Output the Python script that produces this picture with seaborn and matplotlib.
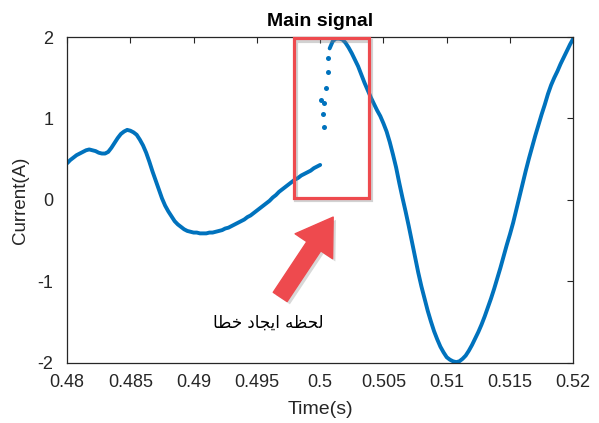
import numpy as np
import pandas as pd
import matplotlib
matplotlib.use("Agg")
import matplotlib.pyplot as plt
import matplotlib.patheffects as pe
from matplotlib.patches import Rectangle
import seaborn as sns

# ---- sampled current, before the fault (0.25 ms sampling) ----
T_PRE_START = 0.48
T_POST_START = 0.50075
DT = 0.00025
current_pre = [
    0.45, 0.49, 0.52, 0.55, 0.57, 0.59, 0.61, 0.62, 0.61, 0.60,
    0.58, 0.57, 0.57, 0.59, 0.64, 0.70, 0.76, 0.81, 0.84, 0.86,
    0.85, 0.83, 0.80, 0.74, 0.67, 0.58, 0.47, 0.35, 0.24, 0.13,
    0.02, -0.07, -0.14, -0.20, -0.26, -0.30, -0.33, -0.36, -0.38, -0.39,
    -0.40, -0.40, -0.41, -0.41, -0.41, -0.40, -0.40, -0.39, -0.38, -0.37,
    -0.35, -0.34, -0.32, -0.30, -0.28, -0.26, -0.24, -0.21, -0.19, -0.16,
    -0.13, -0.10, -0.07, -0.04, -0.01, 0.03, 0.06, 0.10, 0.13, 0.16,
    0.19, 0.22, 0.25, 0.27, 0.30, 0.32, 0.34, 0.36, 0.39, 0.41,
    0.43,
]
# ---- scattered samples during the transient ----
jump_time = [0.50010, 0.50021, 0.50029, 0.50034, 0.50045, 0.50058, 0.50061]
jump_current = [1.23, 1.06, 0.90, 1.19, 1.37, 1.57, 1.74]
# ---- sampled current after the fault ----
current_post = [
    1.86, 1.95, 1.98, 1.98, 1.97, 1.93, 1.87, 1.80, 1.72, 1.64,
    1.54, 1.44, 1.35, 1.26, 1.18, 1.10, 1.03, 0.94, 0.84, 0.71,
    0.56, 0.40, 0.21, 0.03, -0.14, -0.32, -0.51, -0.70, -0.89, -1.06,
    -1.21, -1.36, -1.49, -1.61, -1.71, -1.80, -1.87, -1.93, -1.96, -1.98,
    -1.99, -1.98, -1.95, -1.91, -1.85, -1.78, -1.70, -1.62, -1.53, -1.43,
    -1.32, -1.21, -1.09, -0.96, -0.83, -0.69, -0.55, -0.42, -0.28, -0.12,
    0.04, 0.20, 0.36, 0.51, 0.65, 0.79, 0.92, 1.05, 1.17, 1.30,
    1.41, 1.50, 1.58, 1.67, 1.75, 1.83, 1.91, 1.98,
]

x_ticks = [0.48, 0.485, 0.49, 0.495, 0.5, 0.505, 0.51, 0.515, 0.52]
x_tick_labels = ["0.48", "0.485", "0.49", "0.495", "0.5", "0.505", "0.51", "0.515", "0.52"]
y_ticks = [-2, -1, 0, 1, 2]
y_tick_labels = ["-2", "-1", "0", "1", "2"]
title_text = "Main signal"
x_label = "Time(s)"
y_label = "Current(A)"
fault_label = "لحظه ایجاد خطا"

pre = pd.DataFrame({
    "time": T_PRE_START + DT * np.arange(len(current_pre)),
    "current": current_pre,
})
post = pd.DataFrame({
    "time": T_POST_START + DT * np.arange(len(current_post)),
    "current": current_post,
})
jump = pd.DataFrame({"time": jump_time, "current": jump_current})

# Contextual forms for the Arabic letters, so the label is drawn joined, right to left
ARABIC_FORMS = {
    "\u0627": ("\uFE8D", "\uFE8E", None, None),
    "\u062F": ("\uFEA9", "\uFEAA", None, None),
    "\u062C": ("\uFE9D", "\uFE9E", "\uFE9F", "\uFEA0"),
    "\u062D": ("\uFEA1", "\uFEA2", "\uFEA3", "\uFEA4"),
    "\u062E": ("\uFEA5", "\uFEA6", "\uFEA7", "\uFEA8"),
    "\u0637": ("\uFEC1", "\uFEC2", "\uFEC3", "\uFEC4"),
    "\u0638": ("\uFEC5", "\uFEC6", "\uFEC7", "\uFEC8"),
    "\u0644": ("\uFEDD", "\uFEDE", "\uFEDF", "\uFEE0"),
    "\u0647": ("\uFEE9", "\uFEEA", "\uFEEB", "\uFEEC"),
    "\u06CC": ("\uFBFC", "\uFBFD", "\uFBFE", "\uFBFF"),
}


def shape_arabic(text):
    out = []
    for i, ch in enumerate(text):
        forms = ARABIC_FORMS.get(ch)
        if forms is None:
            out.append(ch)
            continue
        prev = text[i - 1] if i > 0 else ""
        nxt = text[i + 1] if i + 1 < len(text) else ""
        joins_prev = prev in ARABIC_FORMS and ARABIC_FORMS[prev][2] is not None
        joins_next = nxt in ARABIC_FORMS and forms[2] is not None
        if joins_prev and joins_next:
            out.append(forms[3])
        elif joins_prev:
            out.append(forms[1])
        elif joins_next:
            out.append(forms[2])
        else:
            out.append(forms[0])
    return "".join(reversed(out))


sns.set_theme(style="white")
plt.rcParams["font.family"] = ["Liberation Sans", "DejaVu Sans"]
dark = "#262626"
blue = "#0072BD"
red = "#EE4A4E"

fig = plt.figure(figsize=(5.99, 4.23), dpi=100)
ax = fig.add_axes([0.112, 0.142, 0.845, 0.7705])

sns.lineplot(data=pre, x="time", y="current", ax=ax, color=blue, lw=2.8,
             sort=False, estimator=None)
sns.lineplot(data=post, x="time", y="current", ax=ax, color=blue, lw=2.8,
             sort=False, estimator=None)
sns.scatterplot(data=jump, x="time", y="current", ax=ax, color=blue, s=13,
                linewidth=0)

ax.set_xlim(0.48, 0.52)
ax.set_ylim(-2, 2)
ax.set_xticks(x_ticks)
ax.set_xticklabels(x_tick_labels)
ax.set_yticks(y_ticks)
ax.set_yticklabels(y_tick_labels)
ax.tick_params(direction="in", length=4, width=0.8, colors=dark,
               labelsize=13, top=True, right=True,
               labeltop=False, labelright=False)
ax.tick_params(axis="x", pad=8)
ax.tick_params(axis="y", pad=10)
for sp in ax.spines.values():
    sp.set_color(dark)
    sp.set_linewidth(0.9)
ax.set_xlabel(x_label, fontsize=14, color=dark, labelpad=7)
ax.set_ylabel(y_label, fontsize=13.5, color=dark, labelpad=6)
ax.set_title(title_text, fontsize=14, fontweight="bold", color="black", pad=8)

# box around the fault instant, with a soft drop shadow on its outline
box = Rectangle((0.4979, 0.03), 0.00593, 1.955, fill=False, ec=red, lw=2.3,
                clip_on=False, zorder=5)
box.set_path_effects([
    pe.SimpleLineShadow(offset=(2, -2), shadow_color="gray", alpha=0.35, linewidth=3),
    pe.Normal(),
])
ax.add_patch(box)

# arrow pointing at the box
ax.annotate("", xy=(0.50103, -0.21), xytext=(0.49684, -1.19),
            arrowprops=dict(arrowstyle="simple,head_width=2.7,head_length=2.1,tail_width=1.0",
                            fc=red, ec=red, lw=1, shrinkA=0, shrinkB=0,
                            joinstyle="round", capstyle="round",
                            path_effects=[
                                pe.SimplePatchShadow(offset=(2, -2), shadow_rgbFace="gray", alpha=0.3),
                                pe.Normal(),
                            ]),
            zorder=6)

ax.text(0.49589, -1.50, shape_arabic(fault_label), ha="center", va="center",
        fontsize=12, color="black", family=["DejaVu Sans"])

fig.savefig("out.png", dpi=100)
